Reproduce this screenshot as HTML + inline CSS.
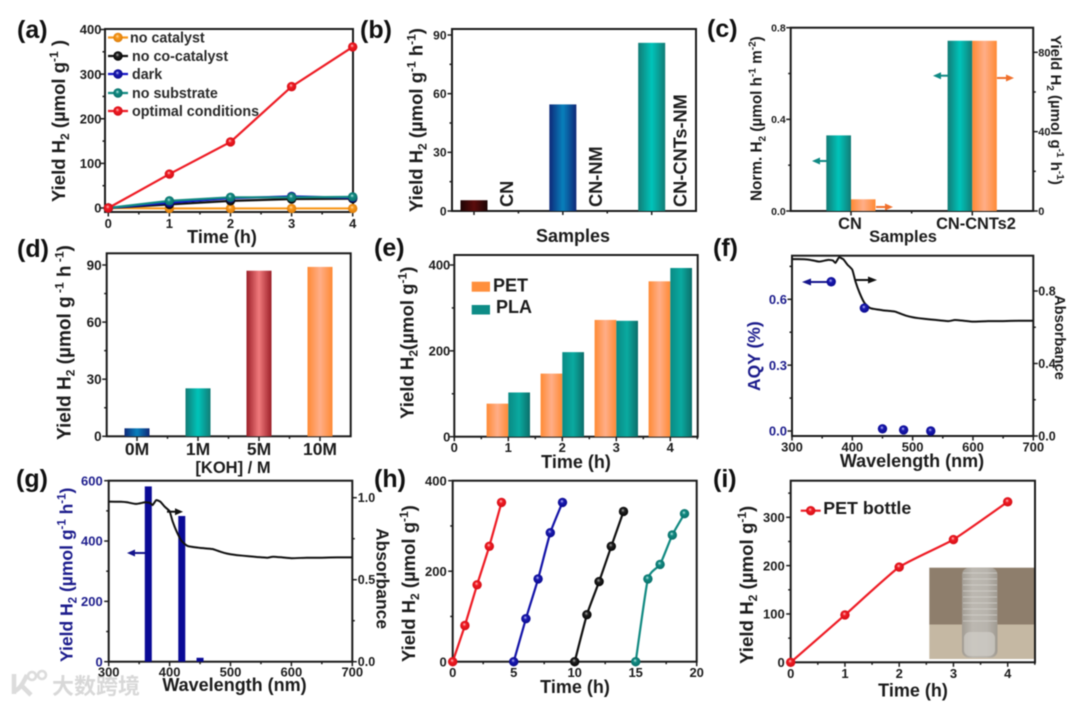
<!DOCTYPE html>
<html lang="en">
<head>
<meta charset="utf-8">
<title>Photocatalytic hydrogen yield panels</title>
<style>
html,body{margin:0;padding:0;background:#fff;width:1080px;height:705px;overflow:hidden}
svg{display:block;font-family:"Liberation Sans","Noto Sans CJK SC",sans-serif;font-weight:bold;filter:blur(0.45px)}
text{fill:#1c1c1c}
.frame{fill:none;stroke:#1a1a1a;stroke-width:2}
.panel{font-size:25px;fill:#111}
.blue{fill:#1c1c8c}
</style>
</head>
<body>
<svg id="figure" width="1080" height="705" viewBox="0 0 1080 705" xmlns="http://www.w3.org/2000/svg">
<defs>
<linearGradient id="g-dark"><stop offset="0" stop-color="#1c0404"/><stop offset=".5" stop-color="#5c0c0c"/><stop offset="1" stop-color="#1c0404"/></linearGradient>
<linearGradient id="g-blue"><stop offset="0" stop-color="#0e2878"/><stop offset=".5" stop-color="#0880bc"/><stop offset="1" stop-color="#0e2878"/></linearGradient>
<linearGradient id="g-teal"><stop offset="0" stop-color="#127c76"/><stop offset=".5" stop-color="#00c4ba"/><stop offset="1" stop-color="#127c76"/></linearGradient>
<linearGradient id="g-teal2"><stop offset="0" stop-color="#0a8a84"/><stop offset=".5" stop-color="#0aaaa0"/><stop offset="1" stop-color="#0c6e6a"/></linearGradient>
<linearGradient id="g-orange"><stop offset="0" stop-color="#ff8a34"/><stop offset=".5" stop-color="#ffae88"/><stop offset="1" stop-color="#ff8a34"/></linearGradient>
<linearGradient id="g-red"><stop offset="0" stop-color="#9c1f28"/><stop offset=".5" stop-color="#f07a7c"/><stop offset="1" stop-color="#9c1f28"/></linearGradient>
<radialGradient id="ball-orange" cx=".5" cy=".5" r=".55" fx=".42" fy=".35"><stop offset="0" stop-color="#ffe0b0"/><stop offset=".35" stop-color="#f7981c"/><stop offset="1" stop-color="#d87a08"/></radialGradient>
<radialGradient id="ball-black" cx=".5" cy=".5" r=".55" fx=".42" fy=".35"><stop offset="0" stop-color="#bbb"/><stop offset=".35" stop-color="#222"/><stop offset="1" stop-color="#000"/></radialGradient>
<radialGradient id="ball-blue" cx=".5" cy=".5" r=".55" fx=".42" fy=".35"><stop offset="0" stop-color="#c8c8ff"/><stop offset=".35" stop-color="#1a1ab0"/><stop offset="1" stop-color="#08088a"/></radialGradient>
<radialGradient id="ball-teal" cx=".5" cy=".5" r=".55" fx=".42" fy=".35"><stop offset="0" stop-color="#c8f0ec"/><stop offset=".35" stop-color="#128a82"/><stop offset="1" stop-color="#086c66"/></radialGradient>
<radialGradient id="ball-red" cx=".5" cy=".5" r=".55" fx=".42" fy=".35"><stop offset="0" stop-color="#ffd0d0"/><stop offset=".35" stop-color="#f01c24"/><stop offset="1" stop-color="#d00c14"/></radialGradient>
<linearGradient id="bottle-shade"><stop offset="0" stop-color="#a29c93"/><stop offset=".3" stop-color="#bcb8b1"/><stop offset=".7" stop-color="#b8b4ad"/><stop offset="1" stop-color="#a09a91"/></linearGradient>
</defs>

<g id="watermark">
<path d="M14 674v20M15 691c6-3 9-10 12-16M20 684l11 11" fill="none" stroke="#dcdcdc" stroke-width="4.5"/>
<circle cx="32" cy="676" r="4" fill="none" stroke="#dcdcdc" stroke-width="2.6"/>
<circle cx="42" cy="675" r="4" fill="none" stroke="#dcdcdc" stroke-width="2.6"/>
<text x="52" y="694" font-size="22" style="fill:#d8d8d8">大数跨境</text>
</g>

<g id="a">
<text class="panel" x="17" y="38">(a)</text>
<rect class="frame" x="105" y="29" width="248" height="183"/>
<text transform="translate(65,202) rotate(-90)" font-size="18.5">Yield H<tspan dy="4" font-size="12">2</tspan><tspan dy="-4"> (µmol g</tspan><tspan dy="-7" font-size="12">-1</tspan><tspan dy="7"> )</tspan></text>
<text x="222" y="243" font-size="18" text-anchor="middle">Time (h)</text>
</g>

<g id="b">
<text class="panel" x="360" y="38">(b)</text>
<rect class="frame" x="452" y="29" width="244" height="182"/>
<text transform="translate(422.5,212) rotate(-90)" font-size="18.5">Yield H<tspan dy="4" font-size="12">2</tspan><tspan dy="-4"> (µmol g</tspan><tspan dy="-7" font-size="12">-1</tspan><tspan dy="7"> h</tspan><tspan dy="-7" font-size="12">-1</tspan><tspan dy="7">)</tspan></text>
<text x="573" y="242" font-size="18" text-anchor="middle">Samples</text>
</g>

<g id="c">
<text class="panel" x="707" y="37">(c)</text>
<rect class="frame" x="790.7" y="27.7" width="242.5" height="183.3"/>
<text transform="translate(761.5,201) rotate(-90)" font-size="15.3">Norm. H<tspan dy="4" font-size="10">2</tspan><tspan dy="-4"> (µmol h</tspan><tspan dy="-6" font-size="10">-1</tspan><tspan dy="6"> m</tspan><tspan dy="-6" font-size="10">-2</tspan><tspan dy="6">)</tspan></text>
<text transform="translate(1051,35) rotate(90)" font-size="15">Yield H<tspan dy="4" font-size="10">2</tspan><tspan dy="-4"> (µmol g</tspan><tspan dy="-6" font-size="10">-1</tspan><tspan dy="6"> h</tspan><tspan dy="-6" font-size="10">-1</tspan><tspan dy="6">)</tspan></text>
<text x="903" y="242" font-size="16.5" text-anchor="middle">Samples</text>
</g>

<g id="d">
<text class="panel" x="17" y="257">(d)</text>
<rect class="frame" x="106.7" y="253.3" width="244" height="183"/>
<text transform="translate(70.5,440) rotate(-90)" font-size="19">Yield H<tspan dy="4" font-size="12">2</tspan><tspan dy="-4">  (µmol g</tspan><tspan dy="-7" font-size="12"> -1</tspan><tspan dy="7"> h</tspan><tspan dy="-7" font-size="12"> -1</tspan><tspan dy="7">)</tspan></text>
<text x="233" y="473" font-size="16.5" text-anchor="middle">[KOH] / M</text>
</g>

<g id="e">
<text class="panel" x="374" y="256">(e)</text>
<rect class="frame" x="454.3" y="255" width="243.4" height="181.7"/>
<text transform="translate(413.5,419) rotate(-90)" font-size="18.6">Yield H<tspan dy="4" font-size="12">2</tspan><tspan dy="-4">(µmol g</tspan><tspan dy="-7" font-size="12">-1</tspan><tspan dy="7">)</tspan></text>
<text x="576" y="468" font-size="18" text-anchor="middle">Time (h)</text>
<rect x="471.7" y="281.7" width="18.3" height="10" fill="#ff8f3c"/>
<rect x="471.7" y="305" width="18.3" height="9.5" fill="#0e8c86"/>
<text x="493" y="291.5" font-size="18">PET</text>
<text x="496" y="313" font-size="18">PLA</text>
</g>

<g id="f">
<text class="panel" x="713" y="256">(f)</text>
<rect class="frame" x="792" y="255.7" width="241.3" height="180.3"/>
<text class="blue" transform="translate(760,391) rotate(-90)" font-size="17.5">AQY (%)</text>
<text transform="translate(1055,295) rotate(90)" font-size="14.7">Absorbance</text>
<text x="912" y="467" font-size="18" text-anchor="middle">Wavelength (nm)</text>
<g fill="#14148c" stroke="#14148c">
<line x1="828" y1="282" x2="806" y2="282" stroke-width="2"/>
<polygon points="802,282 811,278.5 811,285.5" stroke="none"/>
</g>
<g fill="#111" stroke="#111">
<line x1="855" y1="280" x2="873" y2="280" stroke-width="2"/>
<polygon points="877,280 868,276.5 868,283.5" stroke="none"/>
</g>
</g>

<g id="g">
<text class="panel" x="16" y="487">(g)</text>
<rect class="frame" x="108.7" y="480.7" width="243.6" height="181"/>
<text class="blue" transform="translate(72.5,662) rotate(-90)" font-size="17.5">Yield H<tspan class="blue" dy="4" font-size="11.5">2</tspan><tspan class="blue" dy="-4"> (µmol g</tspan><tspan class="blue" dy="-7" font-size="11.5">-1</tspan><tspan class="blue" dy="7"> h</tspan><tspan class="blue" dy="-7" font-size="11.5">-1</tspan><tspan class="blue" dy="7">)</tspan></text>
<text transform="translate(376.5,528) rotate(90)" font-size="17.5">Absorbance</text>
<text x="234.5" y="691" font-size="18" text-anchor="middle">Wavelength (nm)</text>
</g>

<g id="h">
<text class="panel" x="374" y="487">(h)</text>
<rect class="frame" x="452.7" y="480.7" width="244" height="181"/>
<text transform="translate(415,662) rotate(-90)" font-size="18.5">Yield H<tspan dy="4" font-size="12">2</tspan><tspan dy="-4"> (µmol g</tspan><tspan dy="-7" font-size="12">-1</tspan><tspan dy="7">)</tspan></text>
<text x="575" y="693" font-size="18" text-anchor="middle">Time (h)</text>
</g>

<g id="i">
<text class="panel" x="713" y="487">(i)</text>
<g>
<rect x="929.3" y="567.7" width="105" height="57" fill="#8e7e6c"/>
<rect x="929.3" y="624.5" width="105" height="34.5" fill="#c5b8a3"/>
<rect x="962" y="567.7" width="35.5" height="90" rx="7" fill="url(#bottle-shade)"/>
<path d="M963 573h34M963 579h34M963 585h34M963 591h34M963 597h34M963 603h34M963 609h34M963 615h34M963 621h34" stroke="#d6d3cd" stroke-width="1" fill="none" opacity=".7"/>
<rect x="964" y="632" width="31" height="24" rx="6" fill="#d0cdc8" opacity=".7"/>
</g>
<rect class="frame" x="790.7" y="480.7" width="244.3" height="181.6"/>
<text transform="translate(753,664) rotate(-90)" font-size="18.7">Yield H<tspan dy="4" font-size="12">2</tspan><tspan dy="-4"> (µmol g</tspan><tspan dy="-7" font-size="12">-1</tspan><tspan dy="7">)</tspan></text>
<text x="913" y="696.5" font-size="18" text-anchor="middle">Time (h)</text>
<text x="823.3" y="514" font-size="17.8">PET bottle</text>
</g>

<script>
// ---- data ----
const aTime = [0, 1, 2, 3, 4];
const aNoCatalyst = [0, -1, -1, -1, -1];
const aNoCoCatalyst = [0, 8, 16, 20, 21];
const aDark = [0, 12, 22, 26, 23];
const aNoSubstrate = [0, 16, 24, 24, 25];
const aOptimal = [0, 76, 148, 272, 361];
const aLegendLabels = ['no catalyst', 'no co-catalyst', 'dark', 'no substrate', 'optimal conditions'];
const aXTicks = ['0', '1', '2', '3', '4'];
const aYTicks = ['0', '100', '200', '300', '400'];

const bSamples = ['CN', 'CN-NM', 'CN-CNTs-NM'];
const bYield = [5.5, 54.5, 86];
const bYTicks = ['0', '30', '60', '90'];

const cSamples = ['CN', 'CN-CNTs2'];
const cNorm = [0.33, 0.743];
const cYield = [5.9, 85.8];
const cLeftTicks = ['0.0', '0.4', '0.8'];
const cRightTicks = ['0', '40', '80'];

const dConc = ['0M', '1M', '5M', '10M'];
const dYield = [4.2, 25.2, 87, 89];
const dYTicks = ['0', '30', '60', '90'];

const eTime = [1, 2, 3, 4];
const ePET = [77, 147, 272, 362];
const ePLA = [103, 197, 270, 393];
const eXTicks = ['0', '1', '2', '3', '4'];
const eYTicks = ['0', '200', '400'];

const fWave = [365, 420, 450, 485, 530];
const fAQY = [0.68, 0.56, 0.01, 0.005, 0];
const absWave = [300, 320, 330, 345, 360, 368, 372, 378, 385, 392, 400, 405, 412, 420, 430, 450, 470, 480, 490, 500, 510, 530, 545, 560, 570, 585, 600, 625, 650, 675, 700];
const absValue = [0.976, 0.975, 0.972, 0.962, 0.972, 0.968, 0.955, 0.985, 0.975, 0.945, 0.917, 0.855, 0.79, 0.735, 0.705, 0.694, 0.687, 0.675, 0.663, 0.655, 0.65, 0.643, 0.638, 0.634, 0.64, 0.636, 0.631, 0.634, 0.634, 0.636, 0.636];
const fXTicks = ['300', '400', '500', '600', '700'];
const fLeftTicks = ['0.0', '0.3', '0.6'];
const fRightTicks = ['0.0', '0.4', '0.8'];

const gWave = [365, 420, 450];
const gYield = [581, 483, 13];
const gLeftTicks = ['0', '200', '400', '600'];
const gRightTicks = ['0.0', '0.5', '1.0'];
const gXTicks = ['300', '400', '500', '600', '700'];

const hTimeRed = [0, 1, 2, 3, 4];
const hRed = [0, 80, 170, 255, 352];
const hTimeBlue = [5, 6, 7, 8, 9];
const hBlue = [0, 95, 183, 285, 352];
const hTimeBlack = [10, 11, 12, 13, 14];
const hBlack = [0, 104, 177, 255, 332];
const hTimeTeal = [15, 16, 17, 18, 19];
const hTeal = [0, 183, 215, 280, 327];
const hXTicks = ['0', '5', '10', '15', '20'];
const hYTicks = ['0', '200', '400'];

const iTime = [0, 1, 2, 3, 4];
const iYield = [0, 98, 197, 254, 332];
const iXTicks = ['0', '1', '2', '3', '4'];
const iYTicks = ['0', '100', '200', '300'];

// ---- helpers ----
const NS = 'http://www.w3.org/2000/svg';
function add(parent, tag, attrs, name) {
  const el = document.createElementNS(NS, tag);
  for (const k in attrs) el.setAttribute(k, attrs[k]);
  
  
  parent.appendChild(el);
  return el;
}
function label(parent, x, y, str, size, anchor, color, name) {
  const el = add(parent, 'text', {x: x, y: y, 'font-size': size, 'text-anchor': anchor, style: 'fill:' + color}, name);
  el.textContent = str;
  return el;
}
function linear(d0, d1, r0, r1) { return v => r0 + (v - d0) / (d1 - d0) * (r1 - r0); }
function tick(parent, x1, y1, x2, y2, color, name) {
  add(parent, 'line', {x1: x1, y1: y1, x2: x2, y2: y2, stroke: color, 'stroke-width': 1.5}, name);
}
function minorValues(values, step, lo, hi) {
  const out = [];
  const n = Math.round((hi - lo) / step);
  const start = values[0] - Math.floor((values[0] - lo) / step) * step;
  for (let i = 0; i <= n; i++) {
    const v = start + i * step;
    if (v > hi + 1e-9) break;
    if (!values.some(m => Math.abs(m - v) < step / 10)) out.push(v);
  }
  return out;
}
function axisY(parent, x, scale, ticks, o) {
  const dir = o.side === 'right' ? 1 : -1;
  const color = o.color || '#1c1c1c';
  const values = ticks.map(parseFloat);
  ticks.forEach((t, i) => {
    const y = scale(values[i]);
    tick(parent, x, y, x + dir * 4.5, y, color, 'y-tick');
    label(parent, x + dir * (o.gap || 6), y + o.size * 0.36, t, o.size, dir < 0 ? 'end' : 'start', o.labelColor || color, 'y-tick-label');
  });
  if (o.step) minorValues(values, o.step, o.lo, o.hi).forEach(v => tick(parent, x, scale(v), x + dir * 2.5, scale(v), color, 'y-minor-tick'));
}
function axisX(parent, y, scale, ticks, o) {
  const values = ticks.map(parseFloat);
  ticks.forEach((t, i) => {
    const x = scale(values[i]);
    tick(parent, x, y, x, y + 4.5, '#1c1c1c', 'x-tick');
    label(parent, x, y + o.base, t, o.size, 'middle', '#1c1c1c', 'x-tick-label');
  });
  if (o.step) minorValues(values, o.step, o.lo, o.hi).forEach(v => tick(parent, scale(v), y, scale(v), y + 2.5, '#1c1c1c', 'x-minor-tick'));
}
function bar(parent, cx, w, y0, yTop, fill, name) {
  add(parent, 'rect', {x: cx - w / 2, y: yTop, width: w, height: y0 - yTop, fill: fill}, name);
}
function pathFrom(xs, ys, sx, sy, smooth) {
  const p = xs.map((x, i) => [sx(x), sy(ys[i])]);
  let d = 'M' + p[0][0] + ' ' + p[0][1];
  for (let i = 0; i < p.length - 1; i++) {
    if (!smooth) { d += 'L' + p[i + 1][0] + ' ' + p[i + 1][1]; continue; }
    const a = p[Math.max(i - 1, 0)], b = p[i], c = p[i + 1], e = p[Math.min(i + 2, p.length - 1)];
    d += 'C' + (b[0] + (c[0] - a[0]) / 12) + ' ' + (b[1] + (c[1] - a[1]) / 12) + ' ' + (c[0] - (e[0] - b[0]) / 12) + ' ' + (c[1] - (e[1] - b[1]) / 12) + ' ' + c[0] + ' ' + c[1];
  }
  return d;
}
function series(parent, xs, ys, sx, sy, color, ball, smooth, name, r) {
  const g = add(parent, 'g', {}, name);
  add(g, 'path', {d: pathFrom(xs, ys, sx, sy, smooth), fill: 'none', stroke: color, 'stroke-width': 2.2}, name + '-line');
  xs.forEach((x, i) => add(g, 'circle', {cx: sx(x), cy: sy(ys[i]), r: r || 4.7, fill: 'url(#' + ball + ')'}, name + '-point'));
}
function legendLine(parent, x1, x2, y, color, ball, name) {
  add(parent, 'line', {x1: x1, y1: y, x2: x2, y2: y, stroke: color, 'stroke-width': 2.2}, name + '-line');
  add(parent, 'circle', {cx: (x1 + x2) / 2, cy: y, r: 4.7, fill: 'url(#' + ball + ')'}, name + '-marker');
}
function arrow(parent, x1, x2, y, color, name) {
  const d = x2 > x1 ? 1 : -1;
  add(parent, 'line', {x1: x1, y1: y, x2: x2 - d * 3, y2: y, stroke: color, 'stroke-width': 2}, name + '-shaft');
  add(parent, 'polygon', {points: x2 + ',' + y + ' ' + (x2 - d * 8) + ',' + (y - 3.5) + ' ' + (x2 - d * 8) + ',' + (y + 3.5), fill: color}, name + '-head');
}
const panel = id => document.getElementById(id);

// ---- (a) ----
(function () {
  const g = panel('a');
  const sx = linear(0, 4, 108.3, 352.7), sy = linear(0, 400, 208, 29.5);
  axisY(g, 105, sy, aYTicks, {size: 13, gap: 3.5, step: 50, lo: -9, hi: 400});
  axisX(g, 212, sx, aXTicks, {size: 13, base: 16, step: 0.5, lo: 0, hi: 4});
  series(g, aTime, aNoCatalyst, sx, sy, '#f7981c', 'ball-orange', false, 'series-no-catalyst');
  series(g, aTime, aNoCoCatalyst, sx, sy, '#111', 'ball-black', false, 'series-no-co-catalyst');
  series(g, aTime, aDark, sx, sy, '#1414c8', 'ball-blue', false, 'series-dark');
  series(g, aTime, aNoSubstrate, sx, sy, '#128a82', 'ball-teal', false, 'series-no-substrate');
  series(g, aTime, aOptimal, sx, sy, '#ee1c25', 'ball-red', false, 'series-optimal-conditions');
  const colors = ['#f7981c', '#111', '#1414c8', '#128a82', '#ee1c25'];
  const balls = ['ball-orange', 'ball-black', 'ball-blue', 'ball-teal', 'ball-red'];
  const rows = [37.5, 56, 74, 93, 111];
  aLegendLabels.forEach((t, i) => {
    legendLine(g, 108, 128, rows[i], colors[i], balls[i], 'legend-entry-' + i);
    label(g, i === 0 ? 130 : 132, rows[i] + 5, t, 14.3, 'start', '#2a2a2a', 'legend-label');
  });
})();

// ---- (b) ----
(function () {
  const g = panel('b');
  const sy = linear(0, 90, 211, 35), sx = linear(0, 2, 474, 651.7);
  axisY(g, 452, sy, bYTicks, {size: 12, gap: 5.5, step: 15, lo: 0, hi: 90});
  [0, 0.5, 1, 1.5, 2].forEach(v => tick(g, sx(v), 211, sx(v), v % 1 ? 213.5 : 215, '#1c1c1c', 'x-tick'));
  const fills = ['url(#g-dark)', 'url(#g-blue)', 'url(#g-teal)'];
  bYield.forEach((v, i) => {
    bar(g, sx(i), 27, sy(0), sy(v), fills[i], 'bar-' + bSamples[i].toLowerCase());
    const t = add(g, 'text', {transform: 'translate(' + (sx(i) + (i === 2 ? 35 : 39)) + ',207) rotate(-90)', 'font-size': 18.2}, 'sample-label');
    t.textContent = bSamples[i];
  });
})();

// ---- (c) ----
(function () {
  const g = panel('c');
  const sl = linear(0, 0.8, 211, 27.7), sr = linear(0, 80, 211, 52.3), sx = linear(0, 1, 851, 972.3);
  axisY(g, 790.7, sl, cLeftTicks, {size: 10.5, gap: 5, step: 0.2, lo: 0, hi: 0.8});
  axisY(g, 1033.3, sr, cRightTicks, {size: 11, side: 'right', gap: 5, step: 20, lo: 0, hi: 90});
  [0, 0.5, 1].forEach(v => tick(g, sx(v), 211, sx(v), v % 1 ? 213.5 : 215.5, '#1c1c1c', 'x-tick'));
  cNorm.forEach((v, i) => add(g, 'rect', {x: sx(i) - 24.7, y: sl(v), width: 24.7, height: sl(0) - sl(v), fill: 'url(#g-teal)'}, 'bar-norm-' + cSamples[i].toLowerCase()));
  cYield.forEach((v, i) => add(g, 'rect', {x: sx(i), y: sr(v), width: 24.5, height: sr(0) - sr(v), fill: 'url(#g-orange)'}, 'bar-yield-' + cSamples[i].toLowerCase()));
  cSamples.forEach((s, i) => label(g, i ? 976 : 850, 229, s, 16.4, 'middle', '#1c1c1c', 'sample-label'));
  arrow(g, 948, 933, 75.7, '#0f8a84', 'arrow-norm-cnts');
  arrow(g, 827, 812, 161, '#0f8a84', 'arrow-norm-cn');
  arrow(g, 997, 1014, 78, '#f0702c', 'arrow-yield-cnts');
  arrow(g, 876, 893, 207, '#f0702c', 'arrow-yield-cn');
})();

// ---- (d) ----
(function () {
  const g = panel('d');
  const sy = linear(0, 90, 436.3, 265), sx = linear(0, 3, 137, 320);
  axisY(g, 106.7, sy, dYTicks, {size: 13.5, gap: 5, step: 15, lo: 0, hi: 90});
  [0, 0.5, 1, 1.5, 2, 2.5, 3].forEach(v => tick(g, sx(v), 436.3, sx(v), v % 1 ? 438.8 : 441, '#1c1c1c', 'x-tick'));
  const fills = ['url(#g-blue)', 'url(#g-teal)', 'url(#g-red)', 'url(#g-orange)'];
  dYield.forEach((v, i) => {
    bar(g, sx(i), 25, sy(0), sy(v), fills[i], 'bar-' + dConc[i].toLowerCase());
    label(g, sx(i), 455, dConc[i], 17.5, 'middle', '#1c1c1c', 'x-tick-label');
  });
})();

// ---- (e) ----
(function () {
  const g = panel('e');
  const sy = linear(0, 400, 436.7, 265), sx = linear(0, 4, 454.3, 670.3);
  axisY(g, 454.3, sy, eYTicks, {size: 13, gap: 4, step: 100, lo: 0, hi: 400});
  axisX(g, 436.7, sx, eXTicks, {size: 13, base: 15.5, step: 0.5, lo: 0, hi: 4.5});
  eTime.forEach((t, i) => {
    add(g, 'rect', {x: sx(t) - 21.7, y: sy(ePET[i]), width: 21.7, height: sy(0) - sy(ePET[i]), fill: 'url(#g-orange)'}, 'bar-pet-' + t);
    add(g, 'rect', {x: sx(t), y: sy(ePLA[i]), width: 21.7, height: sy(0) - sy(ePLA[i]), fill: 'url(#g-teal2)'}, 'bar-pla-' + t);
  });
})();

// ---- (f) ----
(function () {
  const g = panel('f');
  const sx = linear(300, 700, 792, 1033.3), sl = linear(0, 0.6, 431, 299.3), sr = linear(0, 0.8, 436, 291);
  axisY(g, 792, sl, fLeftTicks, {size: 13, gap: 5, step: 0.15, lo: 0, hi: 0.75, color: '#1c1c1c', labelColor: '#1c1c8c'});
  axisY(g, 1033.3, sr, fRightTicks, {size: 12.5, side: 'right', gap: 5, step: 0.2, lo: 0, hi: 0.99});
  axisX(g, 436, sx, fXTicks, {size: 13, base: 15.5, step: 50, lo: 300, hi: 700});
  add(g, 'path', {d: pathFrom(absWave, absValue, sx, sr, true), fill: 'none', stroke: '#111', 'stroke-width': 2}, 'absorbance-curve');
  fWave.forEach((w, i) => add(g, 'circle', {cx: sx(w), cy: sl(fAQY[i]), r: 4.7, fill: 'url(#ball-blue)'}, 'aqy-point'));
})();

// ---- (g) ----
(function () {
  const g = panel('g');
  const sx = linear(300, 700, 108.7, 352.3), sl = linear(0, 600, 661.7, 480.7), sr = linear(0, 1, 661.7, 497.7);
  gWave.forEach((w, i) => bar(g, sx(w), 7, sl(0), sl(gYield[i]), '#0a0a96', 'yield-bar-' + w));
  axisY(g, 108.7, sl, gLeftTicks, {size: 13, gap: 6, step: 100, lo: 0, hi: 600, labelColor: '#1c1c8c'});
  axisY(g, 352.3, sr, gRightTicks, {size: 12.5, side: 'right', gap: 5.5, step: 0.25, lo: 0, hi: 1});
  axisX(g, 661.7, sx, gXTicks, {size: 13, base: 15, step: 50, lo: 300, hi: 700});
  add(g, 'path', {d: pathFrom(absWave, absValue, sx, sr, true), fill: 'none', stroke: '#111', 'stroke-width': 2}, 'absorbance-curve');
  arrow(g, 145, 127, 553, '#14148c', 'arrow-to-yield-axis');
  arrow(g, 167, 183, 511.7, '#111', 'arrow-to-absorbance-axis');
})();

// ---- (h) ----
(function () {
  const g = panel('h');
  const sx = linear(0, 20, 452.7, 696.7), sy = linear(0, 400, 661.7, 480.7);
  axisY(g, 452.7, sy, hYTicks, {size: 13, gap: 6, step: 100, lo: 0, hi: 400});
  axisX(g, 661.7, sx, hXTicks, {size: 13, base: 15.5, step: 2.5, lo: 0, hi: 20});
  series(g, hTimeRed, hRed, sx, sy, '#ee1c25', 'ball-red', true, 'cycle-1');
  series(g, hTimeBlue, hBlue, sx, sy, '#1414a8', 'ball-blue', true, 'cycle-2');
  series(g, hTimeBlack, hBlack, sx, sy, '#111', 'ball-black', true, 'cycle-3');
  series(g, hTimeTeal, hTeal, sx, sy, '#128a82', 'ball-teal', true, 'cycle-4');
})();

// ---- (i) ----
(function () {
  const g = panel('i');
  const sx = linear(0, 4, 790.7, 1007.7), sy = linear(0, 300, 662.3, 517.3);
  axisY(g, 790.7, sy, iYTicks, {size: 13, gap: 6, step: 50, lo: 0, hi: 370});
  axisX(g, 662.3, sx, iXTicks, {size: 13, base: 15.5, step: 0.5, lo: 0, hi: 4.5});
  series(g, iTime, iYield, sx, sy, '#ee1c25', 'ball-red', true, 'series-pet-bottle');
  legendLine(g, 800.7, 820.7, 510.7, '#ee1c25', 'ball-red', 'legend-pet-bottle');
})();
</script>
</svg>
</body>
</html>
